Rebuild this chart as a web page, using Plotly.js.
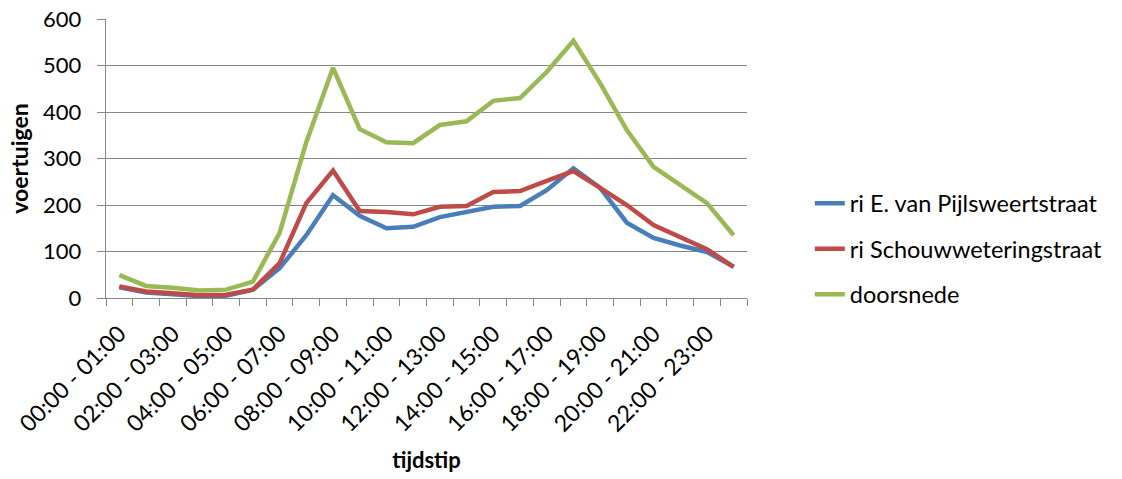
<!DOCTYPE html>
<html>
<head>
<meta charset="utf-8">
<script src="https://cdn.plot.ly/plotly-3.0.1.min.js"></script>
<style>html,body{margin:0;padding:0;background:#fff;}#chart{width:1122px;height:479px;}</style>
</head>
<body>
<div id="chart"></div>
<script>
const hours = ["00:00 - 01:00","01:00 - 02:00","02:00 - 03:00","03:00 - 04:00","04:00 - 05:00","05:00 - 06:00",
  "06:00 - 07:00","07:00 - 08:00","08:00 - 09:00","09:00 - 10:00","10:00 - 11:00","11:00 - 12:00",
  "12:00 - 13:00","13:00 - 14:00","14:00 - 15:00","15:00 - 16:00","16:00 - 17:00","17:00 - 18:00",
  "18:00 - 19:00","19:00 - 20:00","20:00 - 21:00","21:00 - 22:00","22:00 - 23:00","23:00 - 24:00"];
const pijlsweert = [23,12,8,4,5,18,64,135,221,177,150,153,174,185,196,198,232,279,237,162,129,113,99,67];
const schouwwetering = [25,14,10,6,7,18,75,204,274,187,185,180,196,198,228,230,252,273,237,200,157,131,105,67];
const doorsnede = [49,26,22,16,18,35,140,335,495,363,335,333,372,380,424,430,486,553,462,361,282,243,204,135];
const seriesNames = ["ri E. van Pijlsweertstraat","ri Schouwweteringstraat","doorsnede"];
const seriesColors = ["#4A7EBB","#BE4B48","#98B954"];
const labelCats = hours.filter((h,i)=>i%2===0);
const boundaries = hours.map((h,i)=>i-0.5).concat([hours.length-0.5]);

const FONT = "Lato, 'Open Sans', sans-serif";
const gray = "#868686";
const NB = "\u00a0";

const traces = [pijlsweert, schouwwetering, doorsnede].map((vals,i)=>({
  type:"scatter", mode:"lines", x:hours, y:vals, name:seriesNames[i],
  line:{color:seriesColors[i], width:4.5}, legendgroup:"g"+i
}));
traces.push({type:"scatter", mode:"lines", x:[], y:[], xaxis:"x2", showlegend:false, hoverinfo:"skip"});

const layout = {
  width:1122, height:479,
  margin:{l:106, r:375, t:19, b:181},
  paper_bgcolor:"#fff", plot_bgcolor:"#fff",
  font:{family:FONT, size:22, color:"#000"},
  showlegend:true,
  legend:{x:1.098, xanchor:"left", y:0.418, yanchor:"top", font:{family:FONT, size:23.5, color:"#000"},
    tracegroupgap:12, borderwidth:0, bgcolor:"rgba(0,0,0,0)"},
  xaxis:{type:"category", range:[-0.5,23.5], tickmode:"array", tickvals:labelCats, ticktext:labelCats,
    tickangle:-45, ticks:"", showgrid:false, zeroline:false, showline:true, linecolor:gray, linewidth:1,
    ticklabelstandoff:12, automargin:false,
    tickfont:{family:FONT, size:23, color:"#000"},
    title:{text:"tijdstip", font:{family:FONT, size:22, color:"#000", weight:"bold"}, standoff:16}},
  xaxis2:{overlaying:"x", type:"linear", range:[-0.5,23.5], tickmode:"array", tickvals:boundaries,
    ticks:"outside", ticklen:7, tickcolor:gray, tickwidth:1, showticklabels:false, showgrid:false,
    zeroline:false, showline:false, side:"bottom", anchor:"y"},
  yaxis:{range:[0,600], dtick:100, tick0:0, ticks:"outside", ticklen:8, tickcolor:gray, tickwidth:1,
    showgrid:true, gridcolor:gray, gridwidth:1, showline:true, linecolor:gray, linewidth:1, zeroline:false,
    automargin:false, ticksuffix:NB+NB, tickfont:{family:FONT, size:22, color:"#000"},
    title:{text:"voertuigen", font:{family:FONT, size:23, color:"#000", weight:"bold"}, standoff:8}}
};

Plotly.newPlot("chart", traces, layout, {displayModeBar:false, staticPlot:true});
</script>
</body>
</html>
